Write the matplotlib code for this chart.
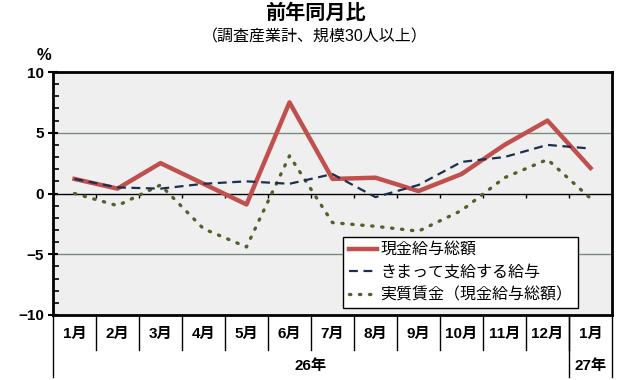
import numpy as np
import matplotlib.pyplot as plt
import matplotlib.transforms as mtransforms

plt.rcParams['font.family'] = ['Liberation Sans', 'Noto Sans CJK JP', 'DejaVu Sans']

# data (前年同月比, %)
months = ['1月', '2月', '3月', '4月', '5月', '6月', '7月', '8月', '9月', '10月', '11月', '12月', '1月']
years = ['26年', '27年']
year_spans = [(0, 11), (12, 12)]
genkin = [1.2, 0.4, 2.5, 0.8, -0.9, 7.5, 1.2, 1.3, 0.2, 1.6, 4.0, 6.0, 2.1]
kimatte = [1.2, 0.5, 0.4, 0.8, 1.0, 0.8, 1.6, -0.3, 0.7, 2.6, 3.0, 4.0, 3.7]
jisshitsu = [0.0, -1.0, 0.7, -2.9, -4.4, 3.1, -2.4, -2.7, -3.1, -1.4, 1.3, 2.8, -0.4]
labels = ['現金給与総額', 'きまって支給する給与', '実質賃金（現金給与総額）']

fig = plt.figure(figsize=(6.3, 3.8), dpi=100)
ax = fig.add_axes([53 / 630, 65 / 380, 559 / 630, 243 / 380])
ax.set_facecolor('#f0eff0')

x = np.arange(len(months))
ax.plot(x, genkin, color='#c0504d', lw=3.2, label=labels[0], zorder=4)
ax.plot(x, kimatte, color='#1c2f4f', lw=1.6, ls=(0, (4, 2.5)), label=labels[1], zorder=5)
ax.plot(x, jisshitsu, color='#4f6228', lw=2.4, ls=(0, (0.4, 2.6)), dash_capstyle='round',
        label=labels[2], zorder=3)

ax.set_xlim(-0.5, len(months) - 0.5)
ax.set_ylim(-10, 10)

# gridlines and zero line
for g in (-5, 5):
    ax.axhline(g, color='#7a8a80', lw=1, zorder=1)
ax.axhline(0, color='black', lw=1, zorder=2)
bounds = np.arange(len(months) - 1) + 0.5
ax.vlines(bounds, -0.35, 0, color='black', lw=1, zorder=2)

for s in ax.spines.values():
    s.set_linewidth(2)

ax.set_yticks([-10, -5, 0, 5, 10])
ax.set_yticklabels(['−10', '−5', '0', '5', '10'])
ax.set_yticks(np.arange(-10, 11, 1), minor=True)
ax.tick_params(axis='y', which='major', direction='inout', length=7, width=1.5,
               labelsize=11, pad=3)
ax.tick_params(axis='y', which='minor', direction='in', length=4, width=1.2)
for t in ax.get_yticklabels():
    t.set_fontweight('bold')
ax.set_xticks([])

# table under the axis
trans = mtransforms.blended_transform_factory(ax.transData, ax.transAxes)
row1 = -35 / 243
row2 = -62 / 243
for b in bounds:
    ax.plot([b, b], [0, row1], color='black', lw=1, transform=trans, clip_on=False)
for b in [-0.5, 11.5, 12.5]:
    ax.plot([b, b], [0, row2], color='black', lw=1, transform=trans, clip_on=False)
for i, m in enumerate(months):
    ax.text(i, -19 / 243, m, transform=trans, ha='center', va='center',
            fontsize=11, fontweight='bold')
for yl, (a, b) in zip(years, year_spans):
    ax.text((a + b) / 2, -51 / 243, yl, transform=trans, ha='center', va='center',
            fontsize=11, fontweight='bold')

# titles
fig.text(315 / 630, 1 - 13 / 380, '前年同月比', ha='center', va='center',
         fontsize=14.5, fontweight='bold')
fig.text(315 / 630, 1 - 37 / 380, '（調査産業計、規模30人以上）', ha='center', va='center',
         fontsize=11.5)
fig.text(44 / 630, 1 - 56 / 380, '%', ha='center', va='center', fontsize=12, fontweight='bold')

leg = ax.legend(loc='upper left', bbox_to_anchor=((343 - 53) / 559, (315 - 237) / 243),
                borderaxespad=0, fancybox=False, framealpha=1, edgecolor='black',
                fontsize=11.5, handlelength=1.8, handletextpad=0.2, labelspacing=0.45,
                borderpad=0.35)
leg.get_frame().set_linewidth(1)
leg.set_zorder(6)

fig.savefig('out.png', dpi=100)
